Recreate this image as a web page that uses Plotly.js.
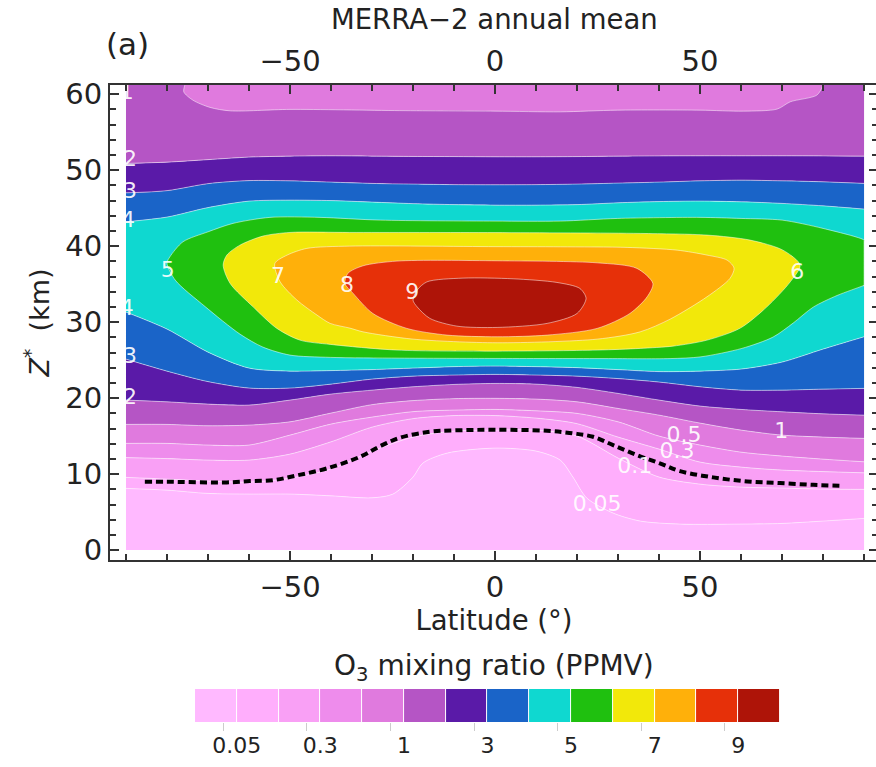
<!DOCTYPE html>
<html><head><meta charset="utf-8">
<script src="https://cdn.plot.ly/plotly-3.0.1.min.js"></script>
<style>html,body{margin:0;padding:0;background:#fff;overflow:hidden}</style>
</head><body><div id="chart"></div>
<script>
// Latitude columns (deg) shared by the open contour curves
const latColumns=[-90,-80,-70,-60,-50,-40,-30,-20,-10,0,10,20,30,40,50,60,70,80,90];
// Altitude Z* (km) of each contour along latColumns
const lat005=[-90,-80,-70,-60,-50,-40,-30,-24.9,-20,-17.6,-11.7,0,10,15.9,19,22.4,28.8,35.4,45.1,60,70,80,90];
const z005=[8.12,7.89,7.46,7.37,7.37,7.14,6.88,7.37,9.61,11.45,12.76,13.42,13.03,11.84,9.61,6.84,4.87,3.82,3.42,3.42,3.51,3.82,4.17];
const z01=[9.57,9.34,9.08,8.95,9.47,10.66,13.03,14.87,15.66,15.79,15.79,15.0,12.11,9.61,8.68,8.29,8.16,8.03,7.99];
const z03=[12.17,12.04,11.84,11.84,12.63,14.25,16.18,17.30,17.70,17.70,17.37,16.64,14.87,13.29,11.58,10.92,10.53,10.33,10.17];
const z05=[14.04,14.04,13.82,13.82,15.13,16.58,17.5,18.22,18.42,18.51,18.33,17.99,16.88,15.0,13.82,12.89,12.37,11.97,11.62];
const z1Low=[16.54,16.54,16.36,16.45,16.88,18.03,19.14,19.67,19.93,19.97,19.87,19.51,18.64,17.76,16.71,15.79,15.13,14.87,14.70];
const z2Low=[19.74,19.51,19.21,19.08,19.74,20.53,21.05,21.49,21.8,21.93,21.84,21.41,20.62,19.74,18.95,18.51,18.2,17.93,17.76];
const z3Low=[25.13,23.55,22.17,21.32,21.32,21.84,22.5,22.89,23.03,23.12,23.03,22.89,22.57,22.11,21.49,21.05,21.05,21.18,21.28];
const z4Low=[31.32,29.08,26.05,23.95,23.55,23.62,23.75,23.95,24.14,24.21,24.14,24.01,23.75,23.49,23.55,23.82,24.74,26.45,28.07];
const z4Up=[43.2,43.82,45.07,45.92,46.05,45.99,45.79,45.59,45.46,45.39,45.39,45.46,45.7,45.86,45.92,45.83,45.62,45.3,44.87];
const z3Up=[47.01,47.3,48.22,48.62,48.59,48.42,48.25,48.16,48.09,48.07,48.09,48.16,48.29,48.42,48.59,48.68,48.59,48.46,48.25];
const z2Up=[50.88,51.05,51.38,51.71,51.84,51.88,51.84,51.8,51.78,51.75,51.75,51.78,51.84,51.87,51.88,51.88,51.88,51.87,51.84];
const zFloor=[0,0,0,0,0,0,0,0,0,0,0,0,0,0,0,0,0,0,0];
const zCeil=[62,62,62,62,62,62,62,62,62,62,62,62,62,62,62,62,62,62,62];
// Closed contours
const capLat=[-75.6,-75.9,-73.7,-69.5,-64.6,-50,-23.2,0,15.9,29.8,50,60.5,68.8,72,78.5,79.8,80,80,40,0,-40,-75.6,-75.6];
const capZ=[61.4,60.3,59.21,58.25,57.8,57.99,57.83,57.76,57.67,57.89,57.89,57.76,58.03,58.99,59.87,60.96,61.6,62.5,62.5,62.5,62.5,62.5,61.4];
const lat5=[90,80,70,60,50,29.8,15.9,0,-28,-42.7,-54.9,-63.9,-70,-76.1,-79.3,-80,-78,-70.7,-62.2,-56.6,-50,-40.2,-23.2,0,25.6,42.7,50.2,60.2,67.8,72.7,77.6,83.4,89.8,90,90,90,90];
const z5=[40.79,42.33,43.42,43.64,43.78,43.64,43.29,43.29,43.42,43.78,43.78,42.99,41.88,40.57,38.59,37.76,35.53,32.04,28.42,26.71,25.66,25.36,25.26,25.22,25.2,25.2,25.43,26.54,28.03,29.87,31.97,33.5,34.8,34.87,34.7,40.6,40.79];
const lat6=[74.4,70.2,62.2,51.7,35.4,0,-35.4,-50,-56.6,-62.2,-65.4,-66.3,-64.6,-59,-53.2,-47.6,-40.2,-23.9,0.5,24.9,35.4,43.4,51.7,59.8,66.3,72,74.4];
const z6=[37.5,39.47,40.79,41.45,41.67,41.78,41.8,41.8,41.32,40.13,38.82,37.5,35.09,32.01,29.17,27.63,27.07,26.32,26.18,26.32,26.54,26.84,27.63,29.21,32.01,35.3,37.5];
const lat7=[58.3,56.6,51.7,44.4,32.2,15.9,0,-35.4,-45.9,-50.7,-53.7,-52.4,-48.3,-43.4,-40.2,-35.4,-32.2,-20,0.5,24.9,35.4,42.7,51.7,57.3,58.3];
const z7=[37.11,38.16,38.82,39.47,39.83,39.91,39.93,40,39.7,38.82,37.72,35.3,32.89,30.92,29.83,29.21,28.72,27.76,27.28,27.76,28.72,30.39,33.33,35.75,37.11];
const lat8=[-36.6,-35.9,-32.2,-23.9,0.5,24.9,34.6,38.5,37.1,32.9,24.9,12.7,0.5,-11.7,-21.5,-29.8,-34.6,-36.6];
const z8=[35.09,36.41,37.41,38.03,38.07,37.8,37.07,35.09,33.33,31.14,29.17,28.29,28.07,28.29,29.17,31.14,33.78,35.09];
const lat9=[-19,-16.6,-7.8,4.4,15.1,20.7,22.2,20,12.7,0.5,-9.3,-15.9,-19,-20,-19];
const z9=[34.21,35.3,35.79,35.7,35.22,34.43,33.12,31.14,29.83,29.3,29.47,30.49,32.01,32.89,34.21];
// Dashed tropopause
const tropLat=[-85.4,-80,-65.4,-59.8,-54.1,-48.3,-41,-32.9,-28,-23.2,-15.9,-10.2,0,12.7,19,23.9,28.8,34.6,40.2,45.1,53.2,61.5,69.5,77.6,84.6];
const tropZ=[8.99,8.99,8.91,9.08,9.21,9.83,10.75,12.28,13.68,14.78,15.57,15.75,15.83,15.70,15.36,14.91,13.82,12.5,11.41,10.39,9.57,9.04,8.82,8.59,8.46];
// In-line contour labels
const labelText=['1','2','3','4','4','3','2','5','7','8','9','6','1','0.5','0.3','0.1','0.05'];
const labelLat=[-89.8,-89,-89,-89.5,-89.8,-89,-89,-79.8,-52.9,-36.1,-20.2,73.7,69.8,46.1,44.4,34.1,24.9];
const labelZ=[60.1,51.3,47,43.2,31.6,25.4,20,36.7,35.9,34.7,33.8,36.4,15.5,14.9,12.8,10.9,5.9];
// Colour classes and colour-bar ticks
const classColors=['#ffb9ff','#ffaefc','#f9a0f5','#ee8cec','#e07ade','#b555c5','#5a1aa8','#1a64c8','#0fd8d0','#1fc00f','#f2e80a','#ffb00a','#e63009','#ae1408'];
const classIndex=[0,1,2,3,4,5,6,7,8,9,10,11,12,13];
const classCentres=[0.5,1.5,2.5,3.5,4.5,5.5,6.5,7.5,8.5,9.5,10.5,11.5,12.5,13.5];
const barLabelAt=[1,3,5,7,9,11,13];
const barLabels=['0.05','0.3','1','3','5','7','9'];
const barTickMarks=[0.68,2.68,4.68,6.68,8.68,10.68,12.68];

const FONT='"DejaVu Sans", sans-serif', INK='#222';
const LINE='rgba(255,255,255,0.5)';
const XR=[-93.9,93.4], YR=[-1.3,61.2];

function band(x,y,c,w){return {type:'scatter',mode:'lines',x:x,y:y,fill:'tonexty',fillcolor:c,
  line:{color:LINE,width:w===undefined?1:w,shape:'spline',smoothing:0.8},hoverinfo:'skip',showlegend:false,xaxis:'x',yaxis:'y'};}
function loop(x,y,c){return {type:'scatter',mode:'lines',x:x,y:y,fill:'toself',fillcolor:c,
  line:{color:LINE,width:1,shape:'spline',smoothing:0.8},hoverinfo:'skip',showlegend:false,xaxis:'x',yaxis:'y'};}
const C=classColors;
const data=[
 {type:'scatter',mode:'lines',x:latColumns,y:zFloor,line:{width:0},hoverinfo:'skip',showlegend:false},
 band(lat005,z005,C[0]),
 band(latColumns,z01,C[1]),
 band(latColumns,z03,C[2]),
 band(latColumns,z05,C[3]),
 band(latColumns,z1Low,C[4]),
 band(latColumns,z2Low,C[5]),
 band(latColumns,z3Low,C[6]),
 band(latColumns,z4Low,C[7]),
 band(latColumns,z4Up,C[8]),
 band(latColumns,z3Up,C[7]),
 band(latColumns,z2Up,C[6]),
 band(latColumns,zCeil,C[5],0),
 loop(capLat,capZ,C[4]),
 loop(lat5,z5,C[9]),
 loop(lat6,z6,C[10]),
 loop(lat7,z7,C[11]),
 loop(lat8,z8,C[12]),
 loop(lat9,z9,C[13]),
 {type:'scatter',mode:'lines',x:tropLat,y:tropZ,line:{color:'#000',width:4,dash:'7px,4px',shape:'spline'},hoverinfo:'skip',showlegend:false},
 {type:'scatter',mode:'text',x:labelLat,y:labelZ,text:labelText,textposition:'middle center',
  textfont:{family:FONT,size:22,color:'rgba(255,255,255,0.92)'},hoverinfo:'skip',showlegend:false,xaxis:'x2',yaxis:'y',cliponaxis:false},
 {type:'heatmap',x:classCentres,y:[0],z:[classIndex],zmin:0,zmax:13,xgap:1,showscale:false,hoverinfo:'skip',
  colorscale:classColors.map((c,i)=>[i/13,c]),xaxis:'x3',yaxis:'y3'}
];
const tickBase={ticks:'inside',linecolor:'#333',linewidth:2,tickcolor:'#333',tickwidth:2,showline:true,showgrid:false,zeroline:false,
  tickfont:{family:FONT,size:29,color:INK}};
const layout={
 width:880,height:767,paper_bgcolor:'#fff',plot_bgcolor:'#fff',showlegend:false,
 margin:{l:110,r:2,t:85,b:20,pad:0},
 xaxis:Object.assign({},tickBase,{domain:[0,1],range:XR,anchor:'y',tick0:0,dtick:50,ticklen:9,
   minor:{dtick:10,ticks:'inside',ticklen:6,tickcolor:'#333',tickwidth:2,showgrid:false},
   title:{text:'Latitude (°)',font:{family:FONT,size:27.5,color:INK},standoff:1}}),
 xaxis2:Object.assign({},tickBase,{overlaying:'x',side:'top',anchor:'y',range:XR,tick0:0,dtick:50,ticklen:9,
   minor:{dtick:10,ticks:'inside',ticklen:6,tickcolor:'#333',tickwidth:2,showgrid:false}}),
 yaxis:Object.assign({},tickBase,{domain:[0.2825,1],range:YR,anchor:'x',tick0:0,dtick:10,ticklen:9,mirror:'ticks',
   minor:{dtick:2,ticks:'inside',ticklen:6,tickcolor:'#333',tickwidth:2,showgrid:false},
   title:{text:'<i>Z</i><sup>*</sup>\u00a0\u00a0(km)\u00a0\u00a0',font:{family:FONT,size:27,color:INK},standoff:8}}),
 xaxis3:{domain:[0.1107,0.8724],range:[0,14],anchor:'y3',tickmode:'array',tickvals:barLabelAt,ticktext:barLabels,
   ticks:'',showline:false,showgrid:false,zeroline:false,ticklabelstandoff:8,
   minor:{tickmode:'array',tickvals:barTickMarks,ticks:'outside',ticklen:8,tickcolor:'#ccc',tickwidth:1,showgrid:false},
   tickfont:{family:FONT,size:22,color:INK}},
 yaxis3:{domain:[0.0378,0.0876],range:[-0.5,0.5],anchor:'x3',showticklabels:false,ticks:'',showline:false,showgrid:false,zeroline:false},
 annotations:[
  {text:'MERRA−2 annual mean',xref:'paper',yref:'paper',x:0.5,y:1,xanchor:'center',yanchor:'bottom',yshift:48,showarrow:false,font:{family:FONT,size:27.5,color:INK}},
  {text:'(a)',xref:'paper',yref:'paper',x:-0.008,y:1,xanchor:'left',yanchor:'bottom',yshift:21,showarrow:false,font:{family:FONT,size:31,color:INK}},
  {text:'O<sub>3</sub> mixing ratio (PPMV)',xref:'paper',yref:'paper',x:0.5,y:0.0876,xanchor:'center',yanchor:'bottom',yshift:1,showarrow:false,font:{family:FONT,size:28,color:INK}}
 ]
};
Plotly.newPlot('chart',data,layout,{displayModeBar:false,staticPlot:true});
</script></body></html>
